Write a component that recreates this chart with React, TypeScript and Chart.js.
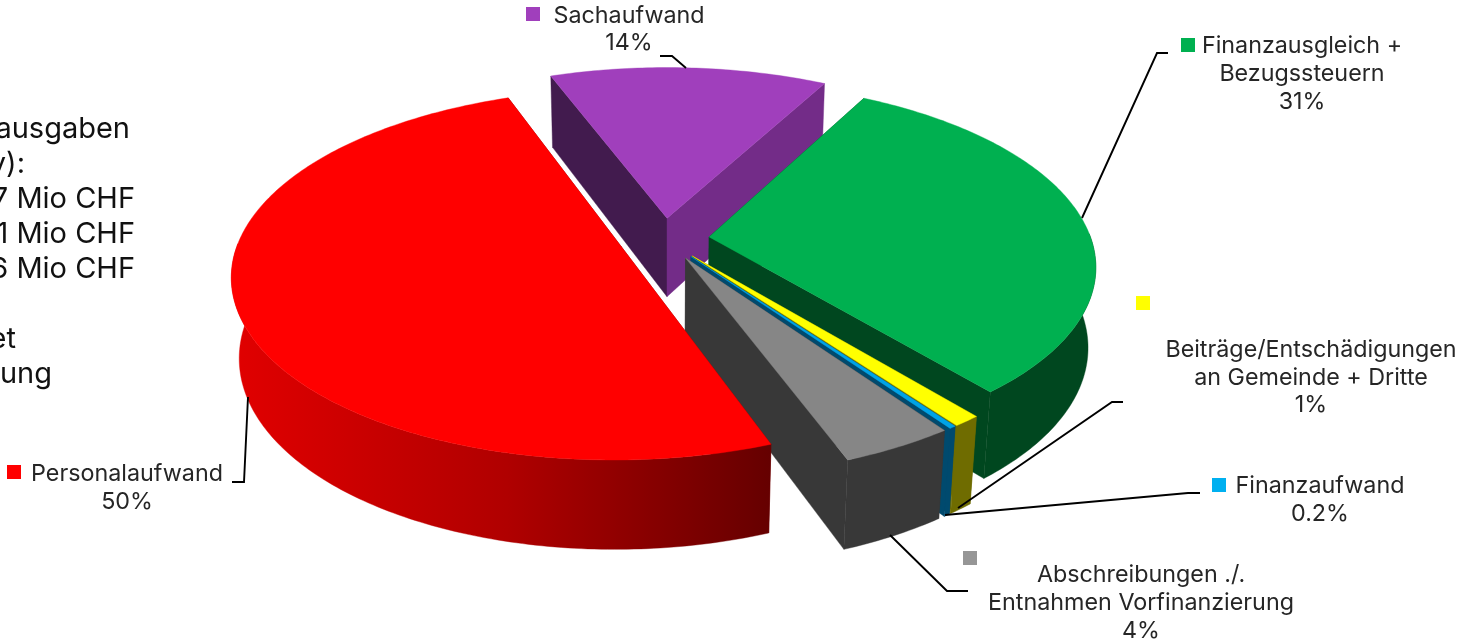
import React, { useEffect, useRef } from "react";
import { Chart, registerables } from "chart.js";

Chart.register(...registerables);

// ---- data ----
const categories = ["Personalaufwand", "Sachaufwand", "Finanzausgleich + Bezugssteuern", "Beiträge/Entschädigungen an Gemeinde + Dritte", "Finanzaufwand", "Abschreibungen ./. Entnahmen Vorfinanzierung"];
const shares = [50, 13.6, 31.1, 1, 0.24, 4.1];
const shareLabels = ["50%", "14%", "31%", "1%", "0.2%", "4%"];
const topColors = ["#ff0000", "#a03fbc", "#00b050", "#ffff00", "#00a3e6", "#868686"];
const markerColors = ["#ff0000", "#a03fbc", "#00b050", "#ffff00", "#00b0f0", "#969696"];
const sideText = ["ausgaben", "y):", "7 Mio CHF", "1 Mio CHF", "6 Mio CHF", "et", "ung"];

// ---- styles ----
const FONT = "Inter, 'Open Sans', sans-serif";
const INK = "#262626";
const startWallColors = ["#7a0000", "#421b4e", "#00471f", "#6f6c00", "#004a6e", "#383838"];
const endWallColors = ["#7a0000", "#732c88", "#00471f", "#6f6c00", "#004a6e", "#383838"];
const outerWallColors = ["", "#732c88", "#00471f", "#6f6c00", "#004a6e", "#383838"];
const drawOrder = [1, 2, 3, 4, 5, 0];

// view of the pie disc
const VIEW = { cx: 664, cy: 239, a: 382, b: 179, p: 0.15, q: 0.018, h: 81 };
const project = (X: number, Y: number, z: number) => {
  const w = 1 - VIEW.p * Y + VIEW.q * z;
  return { x: VIEW.cx + (VIEW.a * X) / w, y: VIEW.cy + (VIEW.b * Y + VIEW.h * z) / w };
};

type Pt = { x: number; y: number };
const fillPoly = (ctx: CanvasRenderingContext2D, pts: Pt[], color: any) => {
  ctx.beginPath();
  pts.forEach((p, i) => (i ? ctx.lineTo(p.x, p.y) : ctx.moveTo(p.x, p.y)));
  ctx.closePath();
  ctx.fillStyle = color;
  ctx.fill();
  ctx.strokeStyle = color;
  ctx.lineWidth = 0.4;
  ctx.stroke();
};

const pie3d = {
  id: "pie3d",
  beforeDatasetDraw() {
    return false;
  },
  afterDatasetsDraw(chart: any) {
    const ctx: CanvasRenderingContext2D = chart.ctx;
    const arcs = chart.getDatasetMeta(0).data;
    drawOrder.forEach((i) => {
      const el = arcs[i];
      const { startAngle, endAngle, outerRadius } = el;
      const mid = (startAngle + endAngle) / 2;
      const e = el.options.offset / outerRadius;
      const tx = Math.cos(mid) * e;
      const ty = Math.sin(mid) * e;
      const n = Math.max(2, Math.ceil((endAngle - startAngle) / 0.015));
      const angles: number[] = [];
      for (let k = 0; k <= n; k++) angles.push(startAngle + ((endAngle - startAngle) * k) / n);
      const rim = (a: number, z: number) => project(tx + Math.cos(a), ty + Math.sin(a), z);
      const tipTop = project(tx, ty, 0);
      const tipBot = project(tx, ty, 1);
      // radial walls
      fillPoly(ctx, [tipTop, rim(startAngle, 0), rim(startAngle, 1), tipBot], startWallColors[i]);
      fillPoly(ctx, [tipTop, rim(endAngle, 0), rim(endAngle, 1), tipBot], endWallColors[i]);
      // outer wall, only where it faces the viewer
      const front = angles.filter((a) => Math.sin(a) > -0.02);
      if (front.length > 1) {
        let color: any = outerWallColors[i];
        if (i === 0) {
          const g = ctx.createLinearGradient(238, 0, 775, 0);
          g.addColorStop(0, "#e00000");
          g.addColorStop(0.5, "#b00000");
          g.addColorStop(1, "#640000");
          color = g;
        }
        fillPoly(ctx, [...front.map((a) => rim(a, 0)), ...front.slice().reverse().map((a) => rim(a, 1))], color);
      }
      // top face
      fillPoly(ctx, [tipTop, ...angles.map((a) => rim(a, 0))], el.options.backgroundColor);
    });
  },
  afterDraw(chart: any) {
    const ctx: CanvasRenderingContext2D = chart.ctx;
    ctx.save();
    // leader lines
    const leaders: number[][][] = [
      [[660, 56], [672, 56], [686, 68]],
      [[1168, 53], [1157, 53], [1082, 218]],
      [[1123, 402], [1112, 402], [958, 508]],
      [[1200, 493], [1188, 493], [945, 515]],
      [[890, 535], [947, 591], [968, 591]],
      [[248, 397], [244, 482], [232, 482]],
    ];
    ctx.strokeStyle = "#000";
    ctx.lineWidth = 1.9;
    leaders.forEach((l) => {
      ctx.beginPath();
      l.forEach((p, i) => (i ? ctx.lineTo(p[0], p[1]) : ctx.moveTo(p[0], p[1])));
      ctx.stroke();
    });
    // legend keys
    const keys = [[7, 465], [526, 7], [1181, 38], [1136, 296], [1212, 478], [963, 551]];
    keys.forEach((k, i) => {
      ctx.fillStyle = markerColors[i];
      ctx.fillRect(k[0], k[1], 14, 14);
    });
    // data labels
    ctx.fillStyle = INK;
    ctx.font = `400 23.3px ${FONT}`;
    ctx.textBaseline = "middle";
    ctx.textAlign = "center";
    const text: [string, number, number][] = [
      ["Personalaufwand", 127, 474],
      [shareLabels[0], 127, 502],
      ["Sachaufwand", 629, 16],
      [shareLabels[1], 629, 43],
      ["Finanzausgleich +", 1302, 46],
      ["Bezugssteuern", 1302, 74],
      [shareLabels[2], 1302, 102],
      ["Beiträge/Entschädigungen", 1311, 350],
      ["an Gemeinde + Dritte", 1311, 378],
      [shareLabels[3], 1311, 405],
      ["Finanzaufwand", 1320, 486],
      [shareLabels[4], 1320, 514],
      ["Abschreibungen ./.", 1141, 575],
      ["Entnahmen Vorfinanzierung", 1141, 603],
      [shareLabels[5], 1141, 631],
    ];
    text.forEach(([t, x, y]) => ctx.fillText(t, x, y));
    // side note, cut off at the left edge
    ctx.fillStyle = "#111";
    ctx.font = `400 29px ${FONT}`;
    ctx.textAlign = "right";
    const sideRight = [130, 25, 135, 135, 135, 16, 52];
    const sideY = [129, 164, 199, 234, 269, 339, 374];
    sideText.forEach((t, i) => ctx.fillText(t, sideRight[i], sideY[i]));
    ctx.restore();
  },
};

export default function App() {
  const ref = useRef<HTMLCanvasElement>(null);
  useEffect(() => {
    const chart = new Chart(ref.current!, {
      type: "pie",
      data: {
        labels: categories,
        datasets: [{ data: shares, backgroundColor: topColors, borderWidth: 0, offset: 36 }],
      },
      options: {
        responsive: false,
        animation: false,
        rotation: 159.5,
        plugins: { legend: { display: false }, tooltip: { enabled: false } },
      },
      plugins: [pie3d],
    } as any);
    return () => chart.destroy();
  }, []);
  return (
    <div style={{ position: "fixed", left: 0, top: 0, width: 1461, height: 642, background: "#fff", overflow: "hidden" }}>
      <canvas ref={ref} width={1461} height={642} style={{ display: "block" }} />
    </div>
  );
}
